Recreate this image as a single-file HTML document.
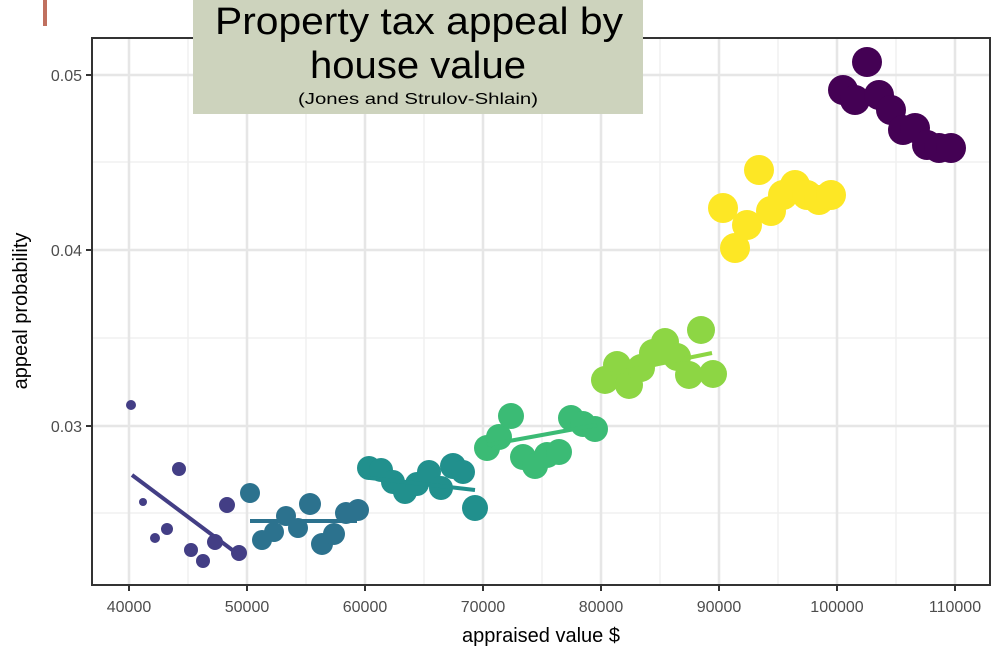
<!DOCTYPE html>
<html><head><meta charset="utf-8"><style>
body{margin:0;width:1008px;height:661px;background:#fff;overflow:hidden;font-family:"Liberation Sans",sans-serif}
</style></head><body>
<svg width="1008" height="661" xmlns="http://www.w3.org/2000/svg" font-family="Liberation Sans, sans-serif">
<rect x="43" y="0" width="4" height="26" fill="#c0705f"/>
<g stroke="#f0f0f0" stroke-width="1.5">
<line x1="92" x2="990" y1="162" y2="162"/><line x1="92" x2="990" y1="338" y2="338"/><line x1="92" x2="990" y1="513" y2="513"/>
<line x1="188" x2="188" y1="38" y2="585"/><line x1="306" x2="306" y1="38" y2="585"/><line x1="424" x2="424" y1="38" y2="585"/><line x1="542" x2="542" y1="38" y2="585"/><line x1="660" x2="660" y1="38" y2="585"/><line x1="778" x2="778" y1="38" y2="585"/><line x1="896" x2="896" y1="38" y2="585"/>
</g>
<g stroke="#e6e6e6" stroke-width="2.5">
<line x1="92" x2="990" y1="75" y2="75"/><line x1="92" x2="990" y1="250" y2="250"/><line x1="92" x2="990" y1="426" y2="426"/>
<line x1="129" x2="129" y1="38" y2="585"/><line x1="247" x2="247" y1="38" y2="585"/><line x1="365" x2="365" y1="38" y2="585"/><line x1="483" x2="483" y1="38" y2="585"/><line x1="601" x2="601" y1="38" y2="585"/><line x1="719" x2="719" y1="38" y2="585"/><line x1="837" x2="837" y1="38" y2="585"/><line x1="955" x2="955" y1="38" y2="585"/>
</g>
<g fill="#433e85">
<circle cx="131" cy="405" r="5"/><circle cx="143" cy="502" r="4"/><circle cx="155" cy="538" r="5"/><circle cx="167" cy="529" r="6"/><circle cx="179" cy="469" r="7"/><circle cx="191" cy="550" r="7"/><circle cx="203" cy="561" r="7"/><circle cx="215" cy="542" r="8"/><circle cx="227" cy="505" r="8"/><circle cx="239" cy="553" r="8"/>
</g>
<line x1="132" y1="475" x2="235" y2="552" stroke="#433e85" stroke-width="4"/>
<g fill="#2c728e">
<circle cx="250" cy="493" r="10"/><circle cx="262" cy="540" r="10"/><circle cx="274" cy="532" r="10"/><circle cx="286" cy="516" r="10"/><circle cx="298" cy="528" r="10"/><circle cx="310" cy="504" r="11"/><circle cx="322" cy="544" r="11"/><circle cx="334" cy="534" r="11"/><circle cx="346" cy="513" r="11"/><circle cx="358" cy="510" r="11"/>
</g>
<line x1="250" y1="521" x2="357" y2="521" stroke="#2c728e" stroke-width="4"/>
<g fill="#21908d">
<circle cx="369" cy="468" r="12"/><circle cx="381" cy="470" r="12"/><circle cx="393" cy="482" r="12"/><circle cx="405" cy="492" r="12"/><circle cx="417" cy="484" r="12"/><circle cx="429" cy="472" r="12"/><circle cx="441" cy="488" r="12"/><circle cx="453" cy="466" r="13"/><circle cx="463" cy="472" r="12"/><circle cx="475" cy="508" r="13"/>
</g>
<line x1="370" y1="478" x2="475" y2="490" stroke="#21908d" stroke-width="4"/>
<g fill="#3bbb75">
<circle cx="487" cy="448" r="13"/><circle cx="499" cy="437" r="13"/><circle cx="511" cy="416" r="13"/><circle cx="523" cy="457" r="13"/><circle cx="535" cy="466" r="13"/><circle cx="547" cy="455" r="13"/><circle cx="559" cy="452" r="13"/><circle cx="571" cy="418" r="13"/><circle cx="583" cy="424" r="13"/><circle cx="595" cy="429" r="13"/>
</g>
<line x1="487" y1="445" x2="597" y2="425" stroke="#3bbb75" stroke-width="4"/>
<g fill="#8dd644">
<circle cx="605" cy="380" r="14"/><circle cx="617" cy="365" r="14"/><circle cx="629" cy="385" r="14"/><circle cx="641" cy="368" r="14"/><circle cx="653" cy="353" r="14"/><circle cx="665" cy="342" r="14"/><circle cx="677" cy="357" r="14"/><circle cx="689" cy="375" r="14"/><circle cx="701" cy="330" r="14"/><circle cx="713" cy="374" r="14"/>
</g>
<line x1="605" y1="375" x2="712" y2="353" stroke="#8dd644" stroke-width="4"/>
<g fill="#fde725">
<circle cx="723" cy="208" r="15"/><circle cx="735" cy="248" r="15"/><circle cx="747" cy="225" r="15"/><circle cx="759" cy="170" r="15"/><circle cx="771" cy="211" r="15"/><circle cx="783" cy="195" r="15"/><circle cx="795" cy="185" r="15"/><circle cx="807" cy="195" r="15"/><circle cx="819" cy="200" r="15"/><circle cx="831" cy="195" r="15"/>
</g>
<g fill="#440154">
<circle cx="843" cy="90" r="15"/><circle cx="855" cy="100" r="15"/><circle cx="867" cy="62" r="15"/><circle cx="879" cy="95" r="15"/><circle cx="891" cy="110" r="15"/><circle cx="903" cy="130" r="15"/><circle cx="915" cy="128" r="15"/><circle cx="927" cy="145" r="15"/><circle cx="939" cy="148" r="15"/><circle cx="951" cy="148" r="15"/>
</g>
<rect x="92" y="38" width="898" height="547" fill="none" stroke="#333" stroke-width="2"/>
<g stroke="#333" stroke-width="2">
<line x1="86" x2="92" y1="75" y2="75"/><line x1="86" x2="92" y1="250" y2="250"/><line x1="86" x2="92" y1="426" y2="426"/>
<line x1="129" x2="129" y1="585" y2="591"/><line x1="247" x2="247" y1="585" y2="591"/><line x1="365" x2="365" y1="585" y2="591"/><line x1="483" x2="483" y1="585" y2="591"/><line x1="601" x2="601" y1="585" y2="591"/><line x1="719" x2="719" y1="585" y2="591"/><line x1="837" x2="837" y1="585" y2="591"/><line x1="955" x2="955" y1="585" y2="591"/>
</g>
<g fill="#4d4d4d" font-size="16" text-anchor="end">
<text x="82" y="81">0.05</text><text x="82" y="256">0.04</text><text x="82" y="432">0.03</text>
</g>
<g fill="#4d4d4d" font-size="16" text-anchor="middle">
<text x="129" y="612">40000</text><text x="247" y="612">50000</text><text x="365" y="612">60000</text><text x="483" y="612">70000</text><text x="601" y="612">80000</text><text x="719" y="612">90000</text><text x="837" y="612">100000</text><text x="955" y="612">110000</text>
</g>
<text x="541" y="642" font-size="20" text-anchor="middle" fill="#000">appraised value $</text>
<text transform="translate(27,311) rotate(-90)" font-size="20" text-anchor="middle" fill="#000">appeal probability</text>
<rect x="193" y="0" width="450" height="114" fill="#cdd3bd"/>
<text x="215" y="34" font-size="38" textLength="408" lengthAdjust="spacingAndGlyphs" fill="#000">Property tax appeal by</text>
<text x="310" y="78" font-size="38" fill="#000" textLength="216" lengthAdjust="spacingAndGlyphs">house value</text>
<text x="298" y="104" font-size="16" fill="#000" textLength="240" lengthAdjust="spacingAndGlyphs">(Jones and Strulov-Shlain)</text>
</svg>
</body></html>
